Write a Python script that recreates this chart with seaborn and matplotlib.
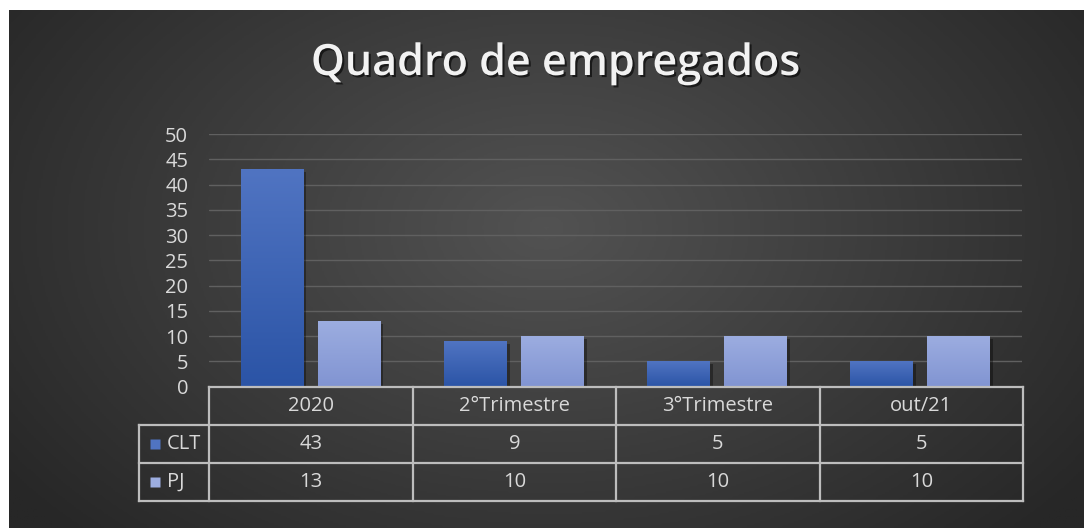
import numpy as np
import pandas as pd
import matplotlib
matplotlib.use("Agg")
import matplotlib.pyplot as plt
import seaborn as sns
from matplotlib import patheffects
from matplotlib.colors import LinearSegmentedColormap

# data
categories = ["2020", "2°Trimestre", "3°Trimestre", "out/21"]
series = ["CLT", "PJ"]
clt = [43, 9, 5, 5]
pj = [13, 10, 10, 10]
y_ticks = list(range(0, 55, 5))

W, H = 1084, 528

df = pd.DataFrame({
    "categoria": categories * 2,
    "serie": ["CLT"] * len(categories) + ["PJ"] * len(categories),
    "valor": clt + pj,
})

sns.set_theme(style="dark")
plt.rcParams["font.family"] = ["Open Sans", "DejaVu Sans"]

txt_color = "#d9d9d9"
line_color = "#bdbdbd"
solid = {"CLT": "#3a62b5", "PJ": "#8ea2d9"}
grads = {"CLT": ("#2b54a6", "#5074c2"), "PJ": ("#8194d2", "#9cadE0")}


def fx(px):
    return px / W


def fy(py):
    return 1 - py / H


fig = plt.figure(figsize=(W / 100, H / 100), dpi=100, facecolor="white")

# dark radial background
bg = fig.add_axes([fx(9), 0, 1 - fx(9), 1 - 10 / H])
yy, xx = np.mgrid[0:1:300j, 0:1:600j]
r = np.sqrt(((xx - 0.5) / 0.62) ** 2 + ((yy - 0.58) / 0.85) ** 2)
r = np.clip(r, 0, 1)
bg_cmap = LinearSegmentedColormap.from_list("bg", ["#525252", "#272727"])
bg.imshow(r, cmap=bg_cmap, aspect="auto", extent=[0, 1, 0, 1], origin="lower")
bg.set_axis_off()

# bars
ax = fig.add_axes([fx(209), fy(386.7), fx(1022) - fx(209), (386.7 - 134) / H])
sns.barplot(data=df, x="categoria", y="valor", hue="serie", order=categories,
            hue_order=series, palette=solid, width=0.756, gap=0.18,
            saturation=1, legend=False, linewidth=0, edgecolor="none", ax=ax)

for name, cont in zip(series, ax.containers):
    cmap = LinearSegmentedColormap.from_list(name, grads[name])
    for bar in cont:
        bar.set_path_effects([patheffects.withSimplePatchShadow(
            offset=(2, -2), shadow_rgbFace="black", alpha=0.35)])
        x0, w, h = bar.get_x(), bar.get_width(), bar.get_height()
        im = ax.imshow(np.linspace(0, 1, 100).reshape(-1, 1), cmap=cmap,
                       origin="lower", aspect="auto",
                       extent=[x0, x0 + w, 0, h], zorder=bar.get_zorder() + 0.1)
        im.set_clip_path(bar)

ax.set_xlim(-0.5, len(categories) - 0.5)
ax.set_ylim(0, 50)
ax.set_yticks(y_ticks)
ax.set_xticks([])
ax.set_facecolor("none")
ax.yaxis.grid(True, color="#606060", lw=1)
ax.set_axisbelow(True)
for s in ax.spines.values():
    s.set_visible(False)
ax.tick_params(axis="y", colors=txt_color, labelsize=14.5, length=0, pad=15)
ax.set_xlabel("")
ax.set_ylabel("")

# data table under the bars
ppu = (1022 - 209) / len(categories)
left = -0.5 - (209 - 139) / ppu
right = len(categories) - 0.5
tax = fig.add_axes([fx(139), fy(501), fx(1023) - fx(139), (501 - 386.7) / H])
tax.set_xlim(left, right)
tax.set_ylim(0, 3)
tax.set_axis_off()

lk = dict(color=line_color, lw=1.6, solid_capstyle="projecting", clip_on=False)
tax.plot([-0.5, right], [3, 3], **lk)
for yv in [2, 1, 0]:
    tax.plot([left, right], [yv, yv], **lk)
for i in range(len(categories) + 1):
    tax.plot([i - 0.5, i - 0.5], [0, 3], **lk)
tax.plot([left, left], [0, 2], **lk)

fs = 14.5
for i, cat in enumerate(categories):
    tax.text(i, 2.5, cat, ha="center", va="center", color=txt_color, fontsize=fs)
rows = {"CLT": clt, "PJ": pj}
for k, name in enumerate(series):
    yc = 1.5 - k
    for i, v in enumerate(rows[name]):
        tax.text(i, yc, str(v), ha="center", va="center", color=txt_color, fontsize=fs)
    tax.plot([left + 16 / ppu], [yc], marker="s", ms=7.5, color=grads[name][1],
             mec="none", clip_on=False)
    tax.text(left + 28 / ppu, yc, name, ha="left", va="center", color=txt_color,
             fontsize=fs)

fig.text(fx(555), fy(75), "Quadro de empregados", ha="center", va="baseline",
         color="#f2f2f2", fontsize=31, fontweight="semibold",
         path_effects=[patheffects.withSimplePatchShadow(
             offset=(1.5, -1.5), shadow_rgbFace="black", alpha=0.6)])

fig.savefig("out.png", dpi=100, facecolor=fig.get_facecolor())
